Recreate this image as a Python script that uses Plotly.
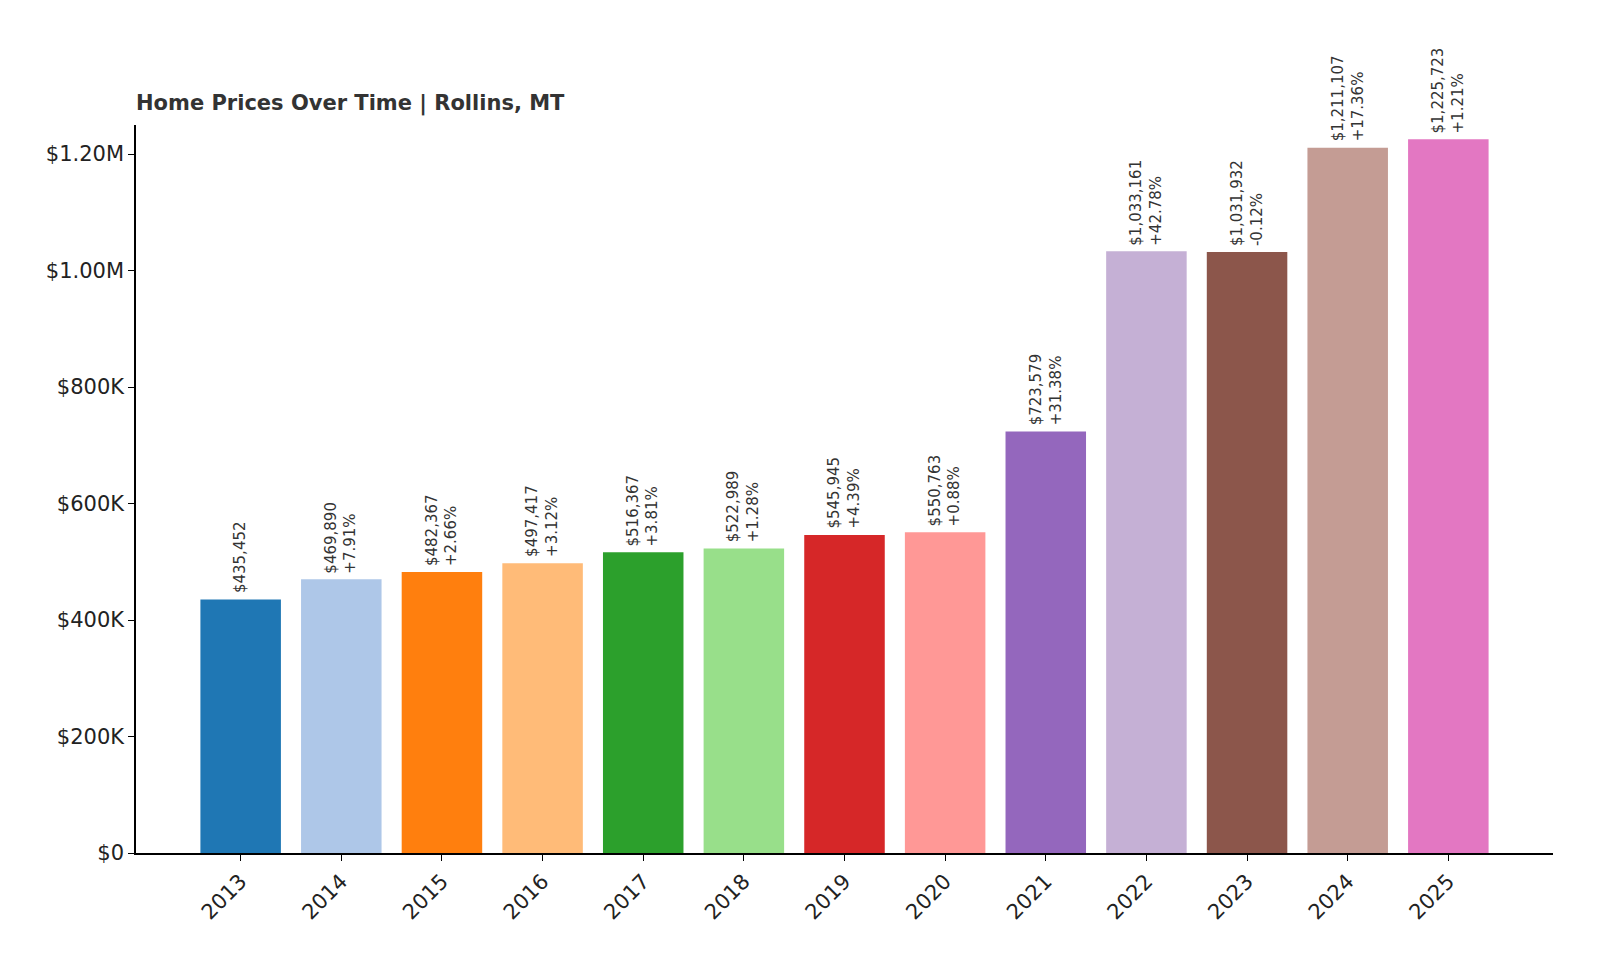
import plotly.graph_objects as go

years = [2013, 2014, 2015, 2016, 2017, 2018, 2019, 2020, 2021, 2022, 2023, 2024, 2025]
prices = [435452, 469890, 482367, 497417, 516367, 522989, 545945, 550763,
          723579, 1033161, 1031932, 1211107, 1225723]
changes = [None, "+7.91%", "+2.66%", "+3.12%", "+3.81%", "+1.28%", "+4.39%", "+0.88%",
           "+31.38%", "+42.78%", "-0.12%", "+17.36%", "+1.21%"]
colors = ["#1f77b4", "#aec7e8", "#ff7f0e", "#ffbb78", "#2ca02c", "#98df8a", "#d62728",
          "#ff9896", "#9467bd", "#c5b0d5", "#8c564b", "#c49c94", "#e377c2"]
tick_vals = [0, 200000, 400000, 600000, 800000, 1000000, 1200000]
tick_text = ["$0", "$200K", "$400K", "$600K", "$800K", "$1.00M", "$1.20M"]

fig = go.Figure(go.Bar(x=years, y=prices, marker_color=colors, width=0.8,
                       marker_line_width=0))

for yr, p, c in zip(years, prices, changes):
    txt = f"${p:,}" if c is None else f"${p:,}<br>{c}"
    fig.add_annotation(x=yr, y=p, text=txt, textangle=-90, showarrow=False,
                       xanchor="center", yanchor="bottom", yshift=4,
                       font=dict(size=15, color="#333333"), align="left")

fig.update_layout(
    title=dict(text="<b>Home Prices Over Time | Rollins, MT</b>", x=128 / 1600, xanchor="left",
               y=1 - 95 / 960, yanchor="middle", font=dict(size=21, color="#333333")),
    width=1600, height=960, plot_bgcolor="white", paper_bgcolor="white",
    margin=dict(l=128, r=55, t=117, b=115),
    font=dict(family="DejaVu Sans", color="#222222"),
    showlegend=False,
)
fig.update_xaxes(range=[2013 - 1.04, 2025 + 1.04], tickvals=years, tickangle=-45,
                 tickfont=dict(size=21), showline=True, linecolor="black", linewidth=1.5,
                 ticks="outside", ticklen=6, tickcolor="black", showgrid=False)
fig.update_yaxes(range=[0, 1250000], tickvals=tick_vals, ticktext=tick_text,
                 tickfont=dict(size=21), showline=True, linecolor="black", linewidth=1.5,
                 ticks="outside", ticklen=6, tickcolor="black", showgrid=False, zeroline=False)

fig.write_html("out.html")
